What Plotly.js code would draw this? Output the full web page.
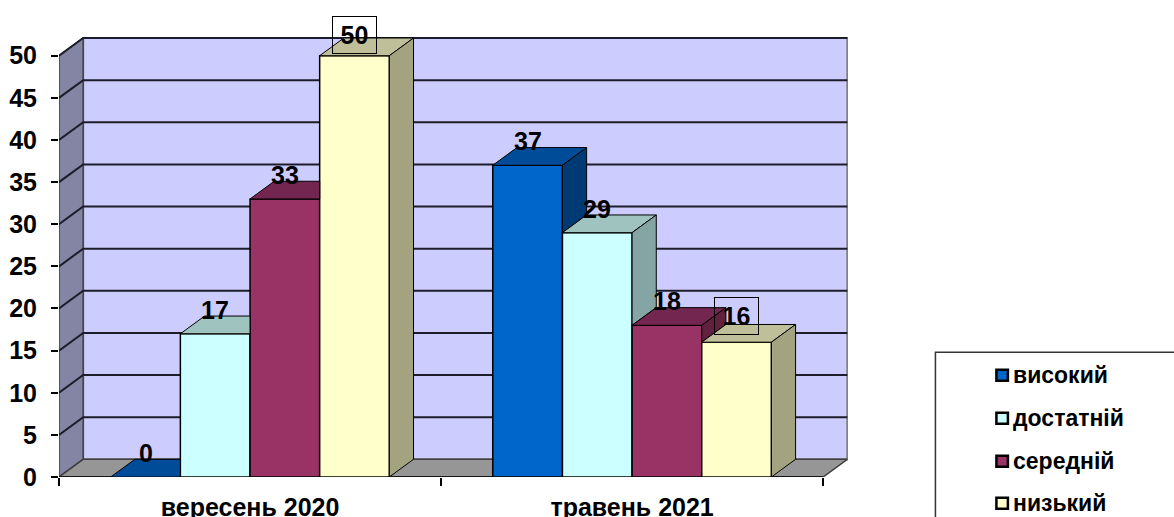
<!DOCTYPE html>
<html>
<head>
<meta charset="utf-8">
<script src="https://cdn.plot.ly/plotly-3.0.1.min.js"></script>
<style>html,body{margin:0;padding:0;background:#fff;overflow:hidden}</style>
</head>
<body>
<div id="chart" style="width:1174px;height:517px"></div>
<script>
const categories = ['вересень 2020', 'травень 2021'];
const seriesNames = ['високий', 'достатній', 'середній', 'низький'];
const vysokyi = [0, 37];
const dostatnii = [17, 29];
const serednii = [33, 18];
const nyzkyi = [50, 16];
const yTicks = [0, 5, 10, 15, 20, 25, 30, 35, 40, 45, 50];
const frontColors = ['#0066CC', '#CCFFFF', '#993366', '#FFFFCC'];
const topColors = ['#004C99', '#9FC4BF', '#732650', '#BFBF99'];
const sideColors = ['#003A75', '#84A5A3', '#62203F', '#A3A380'];

const series = [vysokyi, dostatnii, serednii, nyzkyi];
const FONT = '"Liberation Sans", Arial, sans-serif';
// scale of the drawing
const W = 1174, H = 517;
const pxPerCat = 382.3, pxPerUnit = 8.42;
const plotL = 58.5, plotR = 848, plotB = 476.7;
const dX = 24.2 / pxPerCat, dY = 17.7 / pxPerUnit;
const barW = 69.7 / pxPerCat;
const xMin = -0.5, xMax = 1.5;
const xRange = [xMin, xMin + (plotR - plotL) / pxPerCat];
const yRange = [0, plotB / pxPerUnit];
const yTop = yTicks[yTicks.length - 1];

const poly = (xs, ys, fill, line, lw, axes) => ({
  type: 'scatter', mode: 'lines', x: xs, y: ys, fill: 'toself', fillcolor: fill,
  line: {color: line, width: lw}, showlegend: false, hoverinfo: 'skip',
  xaxis: axes ? 'x2' : 'x', yaxis: axes ? 'y2' : 'y'
});

const traces = [];
// walls and floor in the base subplot
traces.push(poly([xMin + dX, xMax + dX, xMax + dX, xMin + dX, xMin + dX], [dY, dY, yTop + dY, yTop + dY, dY], '#CCCCFF', '#808080', 2));
traces.push(poly([xMin, xMin + dX, xMin + dX, xMin, xMin], [0, dY, yTop + dY, yTop, 0], '#8484A4', '#404040', 1.5));
traces.push(poly([xMin, xMin + dX, xMax + dX, xMax, xMin], [0, dY, dY, 0, 0], '#969696', '#404040', 1.5));
// gridlines on the walls
yTicks.forEach(t => {
  if (t === 0) return;
  traces.push({type: 'scatter', mode: 'lines', x: [xMin, xMin + dX, xMax + dX], y: [t, t + dY, t + dY],
    line: {color: '#1c1c2a', width: 2}, showlegend: false, hoverinfo: 'skip', xaxis: 'x', yaxis: 'y'});
});
traces.push({type: 'scatter', mode: 'lines', x: [xMin, xMax], y: [0, 0], line: {color: '#000', width: 1.5},
  showlegend: false, hoverinfo: 'skip', xaxis: 'x', yaxis: 'y'});

// front faces
series.forEach((vals, j) => {
  traces.push({type: 'bar', name: seriesNames[j], x: categories.map((c, i) => i), y: vals,
    width: barW, offset: -2 * barW + j * barW,
    marker: {color: frontColors[j], line: {color: '#000', width: 1.5}},
    showlegend: false, xaxis: 'x2', yaxis: 'y2', hoverinfo: 'x+y'});
});
// top and side faces
categories.forEach((c, i) => {
  series.forEach((vals, j) => {
    const v = vals[i];
    const L = i - 2 * barW + j * barW, R = L + barW;
    const next = j < series.length - 1 ? series[j + 1][i] : null;
    const hiddenRight = next !== null && next >= v;
    if (hiddenRight) {
      traces.push(poly([L, R, R, L + dX, L], [v, v, v + dY, v + dY, v], topColors[j], '#000', 1, true));
    } else {
      traces.push(poly([L, R, R + dX, L + dX, L], [v, v, v + dY, v + dY, v], topColors[j], '#000', 1, true));
      const base = next === null ? 0 : next;
      traces.push(poly([R, R + dX, R + dX, R, R], [base, base + dY, v + dY, v, base], sideColors[j], '#000', 1, true));
    }
  });
});

// value labels
const boxed = {50: 1, 16: 1};
const nudge = {50: -3.5, 16: 2};
const annotations = [];
categories.forEach((c, i) => {
  series.forEach((vals, j) => {
    const v = vals[i];
    const a = {xref: 'x2', yref: 'y2', x: i - 2 * barW + j * barW + barW / 2, y: v,
      text: String(v), showarrow: false, xanchor: 'center', yanchor: 'middle',
      yshift: 24 + (nudge[v] || 0), font: {family: FONT, size: 25, color: '#000', weight: 700}};
    if (boxed[v]) { a.bordercolor = '#000'; a.borderwidth = 1; a.width = 43; a.height = 36; a.borderpad = 0; }
    annotations.push(a);
  });
});

// legend panel, open past the right and bottom edges of the page as in the picture
const pxX = px => (px - plotL) / (plotR - plotL);
const pxY = px => (plotB - px) / plotB;
const legendRows = [375, 418, 461, 503];
const shapes = [{type: 'rect', xref: 'paper', yref: 'paper', x0: pxX(935.5), x1: pxX(W + 10), y0: pxY(352), y1: pxY(H + 10),
  fillcolor: '#fff', line: {color: '#333', width: 1.5}, layer: 'above'}];
seriesNames.forEach((name, j) => {
  const yc = legendRows[j];
  shapes.push({type: 'rect', xref: 'paper', yref: 'paper', x0: pxX(996.5), x1: pxX(1008), y0: pxY(yc - 5.5), y1: pxY(yc + 5.5),
    fillcolor: frontColors[j], line: {color: '#000', width: 2.5}, layer: 'above'});
  annotations.push({xref: 'paper', yref: 'paper', x: pxX(1012.5), y: pxY(yc), text: name, showarrow: false,
    xanchor: 'left', yanchor: 'middle', xshift: 0, borderpad: 0,
    font: {family: FONT, size: 23, color: '#000', weight: 700}});
});

const layout = {
  width: W, height: H, autosize: false,
  paper_bgcolor: '#fff', plot_bgcolor: '#fff',
  margin: {l: plotL, r: W - plotR, t: 0, b: H - plotB, pad: 0, autoexpand: false},
  barmode: 'overlay',
  showlegend: false,
  font: {family: FONT, color: '#000'},
  xaxis: {range: xRange, tickmode: 'array', tickvals: [xMin, xMin + 1, xMax], ticktext: ['', '', ''],
    ticks: 'outside', ticklen: 8, tickwidth: 1.5, tickcolor: '#000', showgrid: false, zeroline: false, showline: false, fixedrange: true},
  yaxis: {range: yRange, tickmode: 'array', tickvals: yTicks, ticktext: yTicks.map(String),
    ticks: 'outside', ticklen: 7, tickwidth: 1.5, tickcolor: '#000', showgrid: false, zeroline: false, showline: false,
    ticklabelstandoff: 9,
    tickfont: {family: FONT, size: 25, color: '#000', weight: 700}, fixedrange: true},
  xaxis2: {overlaying: 'x', anchor: 'y2', side: 'bottom', range: xRange, tickmode: 'array', tickvals: [0, 1], ticktext: categories,
    ticks: '', ticklen: 0, showgrid: false, zeroline: false, showline: false, ticklabelstandoff: 13,
    tickfont: {family: FONT, size: 25, color: '#000', weight: 700}, fixedrange: true},
  yaxis2: {overlaying: 'y', anchor: 'x2', range: yRange, visible: false, fixedrange: true},
  annotations, shapes
};
Plotly.newPlot('chart', traces, layout, {displayModeBar: false, responsive: false});
</script>
</body>
</html>
